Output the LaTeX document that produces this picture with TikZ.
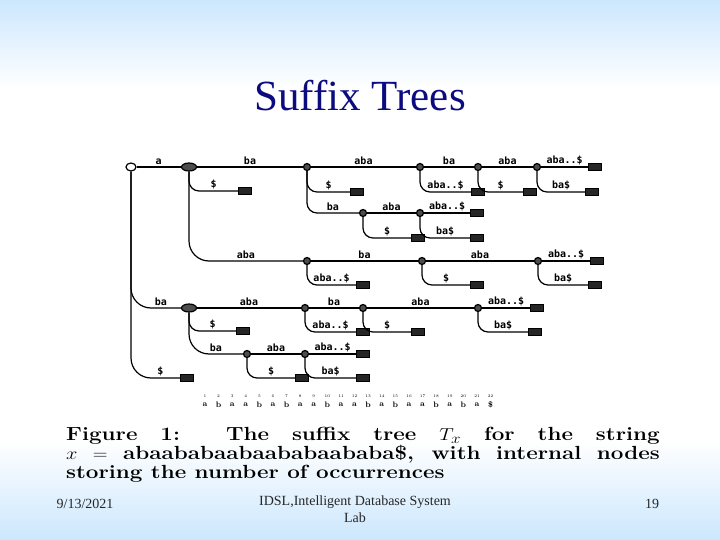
\documentclass[tikz,border=0pt]{standalone}
\usepackage{fontspec}
\usetikzlibrary{shapes.geometric}
\newfontfamily\slidefont{Liberation Serif}
\newfontfamily\edgefont{DejaVu Sans Mono}
\definecolor{skyblue}{RGB}{204,231,253}
\definecolor{titleblue}{RGB}{12,12,128}
\tikzset{
  inner/.style={circle, draw, line width=1.2pt, fill=black!70, minimum size=7pt, inner sep=0pt},
  wide/.style={ellipse, draw, line width=1.2pt, fill=black!70, minimum width=15pt, minimum height=8pt, inner sep=0pt},
  rootnode/.style={ellipse, draw, line width=1.2pt, fill=white, minimum width=10pt, minimum height=8pt, inner sep=0pt},
  leaf/.style={rectangle, draw, line width=0.8pt, fill=black!85, minimum width=13pt, minimum height=7pt, inner sep=0pt},
  edge/.style={line width=1.2pt},
  bent/.style={edge, rounded corners=10pt},
  longbent/.style={edge, rounded corners=20pt},
  elabel/.style={font=\edgefont\bfseries\fontsize{10}{10}\selectfont, above, inner sep=1.5pt},
  blabel/.style={elabel, pos=0.75},
  posnum/.style={font=\fontsize{4}{4}\selectfont, inner sep=0pt},
  posletter/.style={font=\bfseries\fontsize{8}{8}\selectfont, inner sep=0pt},
  footer/.style={font=\slidefont\fontsize{14}{17}\selectfont, text=black!85, inner sep=0pt}
}
\begin{document}
\begin{tikzpicture}[x=1pt, y=1pt]
  \useasboundingbox (0,0) rectangle (720,-540);
  \shade[top color=skyblue, bottom color=white] (0,0) rectangle (720,-88);
  \shade[top color=white, bottom color=skyblue] (0,-440) rectangle (720,-540);

  \node[font=\slidefont\fontsize{43}{43}\selectfont, text=titleblue, anchor=base] (title) at (360,-111) {Suffix Trees};

  % internal nodes
  \node[rootnode] (0) at (131,-167) {};
  \node[wide] (1) at (189,-167) {};
  \node[inner] (2) at (307,-167) {};
  \node[inner] (3) at (420,-167) {};
  \node[inner] (4) at (478,-167) {};
  \node[inner] (5) at (537,-167) {};
  \node[inner] (6) at (363,-213) {};
  \node[inner] (7) at (420,-213) {};
  \node[inner] (8) at (307,-261) {};
  \node[inner] (9) at (422,-261) {};
  \node[inner] (10) at (538,-261) {};
  \node[wide] (11) at (189,-308) {};
  \node[inner] (12) at (305,-308) {};
  \node[inner] (13) at (363,-308) {};
  \node[inner] (14) at (478,-308) {};
  \node[inner] (15) at (247,-354) {};
  \node[inner] (16) at (305,-354) {};

  % leaves
  \node[leaf] (l1) at (595,-167) {};
  \node[leaf] (l2) at (592,-192) {};
  \node[leaf] (l3) at (530,-192) {};
  \node[leaf] (l4) at (478,-192) {};
  \node[leaf] (l5) at (357,-192) {};
  \node[leaf] (l6) at (245,-191) {};
  \node[leaf] (l7) at (477,-213) {};
  \node[leaf] (l8) at (477,-238) {};
  \node[leaf] (l9) at (418,-238) {};
  \node[leaf] (l10) at (597,-261) {};
  \node[leaf] (l11) at (595,-285) {};
  \node[leaf] (l12) at (477,-285) {};
  \node[leaf] (l13) at (363,-285) {};
  \node[leaf] (l14) at (537,-308) {};
  \node[leaf] (l15) at (535,-332) {};
  \node[leaf] (l16) at (418,-332) {};
  \node[leaf] (l17) at (363,-332) {};
  \node[leaf] (l18) at (243,-331) {};
  \node[leaf] (l19) at (363,-354) {};
  \node[leaf] (l20) at (363,-378) {};
  \node[leaf] (l21) at (302,-378) {};
  \node[leaf] (l22) at (187,-378) {};

  % straight edges
  \draw[edge] (0) -- node[elabel]{a} (1);
  \draw[edge] (1) -- node[elabel]{ba} (2);
  \draw[edge] (2) -- node[elabel]{aba} (3);
  \draw[edge] (3) -- node[elabel]{ba} (4);
  \draw[edge] (4) -- node[elabel]{aba} (5);
  \draw[edge] (5) -- node[elabel]{aba..\$} (l1);
  \draw[edge] (6) -- node[elabel]{aba} (7);
  \draw[edge] (7) -- node[elabel]{aba..\$} (l7);
  \draw[edge] (8) -- node[elabel]{ba} (9);
  \draw[edge] (9) -- node[elabel]{aba} (10);
  \draw[edge] (10) -- node[elabel]{aba..\$} (l10);
  \draw[edge] (11) -- node[elabel]{aba} (12);
  \draw[edge] (12) -- node[elabel]{ba} (13);
  \draw[edge] (13) -- node[elabel]{aba} (14);
  \draw[edge] (14) -- node[elabel]{aba..\$} (l14);
  \draw[edge] (15) -- node[elabel]{aba} (16);
  \draw[edge] (16) -- node[elabel]{aba..\$} (l19);

  % bent edges
  \draw[longbent] (0) |- node[blabel, pos=0.8]{ba} (11);
  \draw[longbent] (0) |- node[blabel, pos=0.8]{\$} (l22);
  \draw[bent] (1) |- node[blabel]{\$} (l6);
  \draw[longbent] (1) |- node[blabel]{aba} (8);
  \draw[bent] (2) |- node[blabel]{\$} (l5);
  \draw[bent] (2) |- node[blabel]{ba} (6);
  \draw[bent] (3) |- node[blabel]{aba..\$} (l4);
  \draw[bent] (4) |- node[blabel]{\$} (l3);
  \draw[bent] (5) |- node[blabel]{ba\$} (l2);
  \draw[bent] (6) |- node[blabel]{\$} (l9);
  \draw[bent] (7) |- node[blabel]{ba\$} (l8);
  \draw[bent] (8) |- node[blabel]{aba..\$} (l13);
  \draw[bent] (9) |- node[blabel]{\$} (l12);
  \draw[bent] (10) |- node[blabel]{ba\$} (l11);
  \draw[bent] (11) |- node[blabel]{\$} (l18);
  \draw[longbent] (11) |- node[blabel]{ba} (15);
  \draw[bent] (12) |- node[blabel]{aba..\$} (l17);
  \draw[bent] (13) |- node[blabel]{\$} (l16);
  \draw[bent] (14) |- node[blabel]{ba\$} (l15);
  \draw[bent] (15) |- node[blabel]{\$} (l21);
  \draw[bent] (16) |- node[blabel]{ba\$} (l20);

  % positions of the string
  \foreach \c [count=\i] in {a,b,a,a,b,a,b,a,a,b,a,a,b,a,b,a,a,b,a,b,a,\$} {
    \node[posnum] (n\i) at ({205+13.6*(\i-1)},-396) {\i};
    \node[posletter] (s\i) at ({205+13.6*(\i-1)},-405) {\c};
  }

  \node[anchor=north west, inner sep=0pt] (caption) at (66,-427)
    {\scalebox{1.18}[1]{\parbox{503pt}{\bfseries\fontsize{19}{19}\selectfont
      Figure 1:\ \ The suffix tree $T_x$ for the string\linebreak
      $x=$ abaababaabaababaababa\$, with internal nodes\linebreak
      storing the number of occurrences}}};

  \node[footer, anchor=base] (date) at (85,-508) {9/13/2021};
  \node[footer, anchor=north, align=center] (lab) at (355,-496) {IDSL,Intelligent Database System\\Lab};
  \node[footer, anchor=base] (page) at (652,-508) {19};
\end{tikzpicture}
\end{document}
